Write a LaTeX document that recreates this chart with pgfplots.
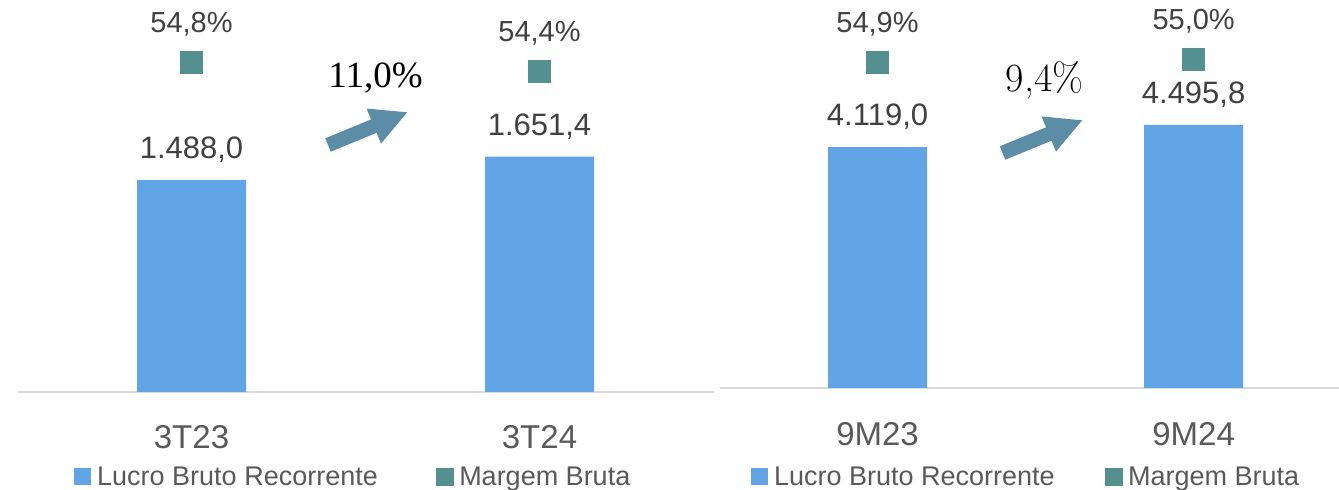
\documentclass[border=0pt]{standalone}
\usepackage{pgfplots}
\pgfplotsset{compat=1.18}
\usepackage{fontspec}
\newfontfamily\lib{Liberation Sans}
\newfontfamily\libserif{Liberation Serif}
\usetikzlibrary{arrows.meta}
\definecolor{barblue}{HTML}{62A5E6}
\definecolor{margteal}{HTML}{54908F}
\definecolor{arrowblue}{HTML}{5B8EA6}
\definecolor{lbl}{HTML}{404040}
\definecolor{ticklbl}{HTML}{595959}
\definecolor{axgray}{HTML}{D9D9D9}

\pgfplotsset{
  base/.style={
    scale only axis, clip=false, xmin=-0.5, anchor=south west,
    /pgf/number format/fixed, /pgf/number format/fixed zerofill,
    /pgf/number format/precision=1, /pgf/number format/use comma,
    /pgf/number format/assume math mode=true,
  },
  barax/.style={
    base, ymin=0,
    axis x line=bottom, axis y line=none,
    x axis line style={-, draw=axgray, line width=1.5bp},
    xtick={0,1}, major tick length=0pt,
    xticklabel style={font=\lib\fontsize{33bp}{33bp}\selectfont, text=ticklbl, anchor=center},
    ybar, nodes near coords,
    every node near coord/.append style={font=\lib\fontsize{31bp}{31bp}\selectfont, text=lbl, anchor=center, yshift=30bp},
    legend columns=2,
    legend style={draw=none, fill=none, inner sep=0pt, anchor=west,
      font=\lib\fontsize{27bp}{27bp}\selectfont, text=ticklbl,
      nodes={inner sep=0pt},
      /tikz/every odd column/.append style={column sep=6bp}},
  },
  margax/.style={
    base, hide axis,
    nodes near coords={\pgfmathprintnumber{\pgfplotspointmeta}\%},
    every node near coord/.append style={font=\lib\fontsize{29bp}{29bp}\selectfont, text=lbl, anchor=center, yshift=38bp},
  },
  barimg/.style={legend image code/.code={\fill[barblue] (0bp,-8.5bp) rectangle (17bp,8.5bp);}},
  margimg/.style={legend image code/.code={\fill[margteal] (0bp,-8.5bp) rectangle (17bp,8.5bp);}},
}

\begin{document}
\begin{tikzpicture}
\useasboundingbox (0,0) rectangle (1339bp,490bp);

% ---------- left panel ----------
\begin{axis}[barax, at={(17.5bp,98bp)}, width=696bp, height=392bp, xmax=1.5, ymax=2750,
  xticklabels={3T23,3T24}, xticklabel style={yshift=-45bp}, bar width=109bp,
  legend style={at={(0.0812,-0.2168)}, /tikz/every even column/.append style={column sep=58bp}}]
\addplot[fill=barblue, draw=none, barimg] coordinates {(0,1488.0) (1,1651.4)};
\addlegendentry{Lucro Bruto Recorrente}
\addlegendimage{margimg}
\addlegendentry{Margem Bruta}
\end{axis}
\begin{axis}[margax, at={(17.5bp,98bp)}, width=696bp, height=392bp, xmax=1.5, ymin=40.13, ymax=57.56]
\addplot[only marks, mark=square*, mark size=11bp, color=margteal] coordinates {(0,54.8) (1,54.4)};
\end{axis}

% ---------- right panel ----------
\begin{axis}[barax, at={(719.5bp,102bp)}, width=619.5bp, height=388bp, xmax=1.46, ymax=6632,
  xticklabels={9M23,9M24}, xticklabel style={yshift=-46bp}, bar width=99bp,
  legend style={at={(0.0508,-0.228)}, /tikz/every even column/.append style={column sep=50bp}}]
\addplot[fill=barblue, draw=none, barimg] coordinates {(0,4119.0) (1,4495.8)};
\addlegendentry{Lucro Bruto Recorrente}
\addlegendimage{margimg}
\addlegendentry{Margem Bruta}
\end{axis}
\begin{axis}[margax, at={(719.5bp,102bp)}, width=619.5bp, height=388bp, xmax=1.46, ymin=44.03, ymax=56.96]
\addplot[only marks, mark=square*, mark size=11bp, color=margteal] coordinates {(0,54.9) (1,55.0)};
\end{axis}

% ---------- growth annotations ----------
\draw[arrowblue, line width=14.5bp, -{Triangle[length=37bp,width=35bp]}] (328bp,345bp) -- (408bp,378bp);
\node[font=\libserif\fontsize{37bp}{37bp}\selectfont] at (375.5bp,411.5bp) {11,0\%};
\draw[arrowblue, line width=14.5bp, -{Triangle[length=37bp,width=35bp]}] (1002.5bp,337bp) -- (1083bp,370bp);
\node[font=\rmfamily\fontsize{40bp}{40bp}\selectfont] at (1044.5bp,410bp) {9,4\%};
\end{tikzpicture}
\end{document}
